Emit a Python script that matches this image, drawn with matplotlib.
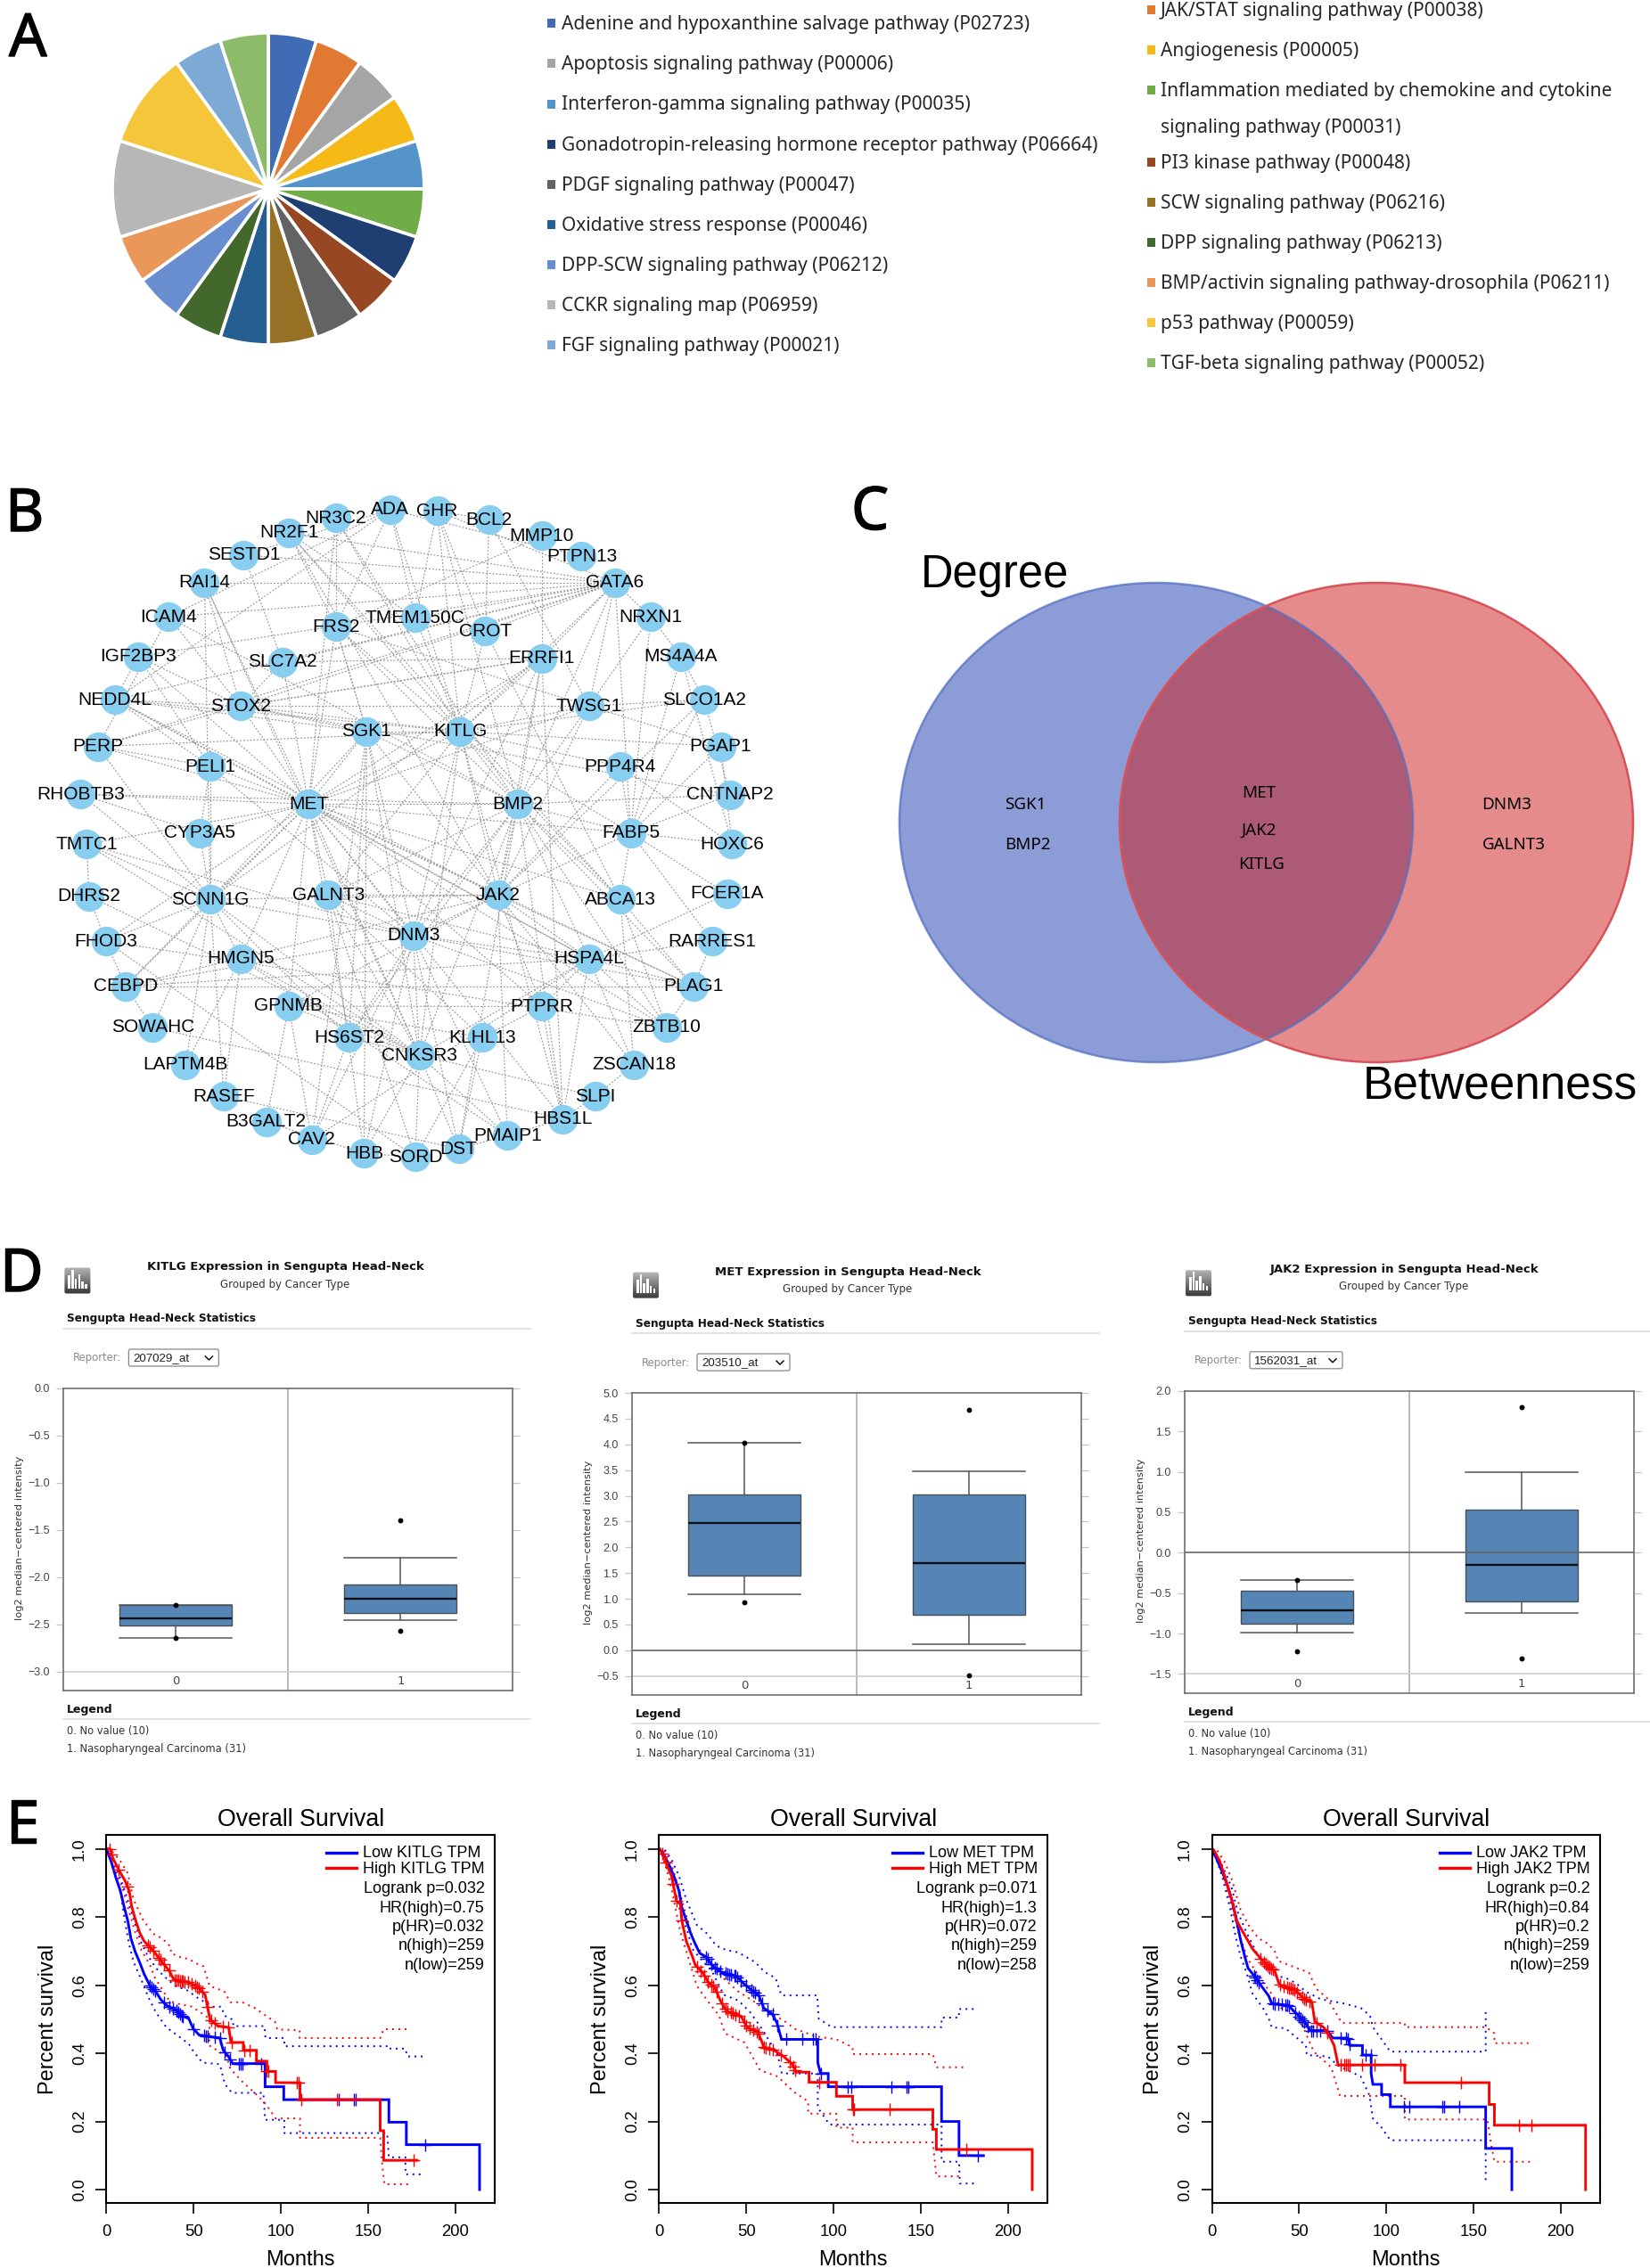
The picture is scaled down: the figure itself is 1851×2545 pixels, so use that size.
#!/usr/bin/env python3

import numpy as np
import matplotlib
matplotlib.use("Agg")
import matplotlib.pyplot as plt
import matplotlib.patheffects as path_effects
from matplotlib.collections import LineCollection
from matplotlib.patches import Ellipse, FancyBboxPatch, Rectangle

WIDTH: int = 1851
HEIGHT: int = 2545
OUTPUT_FILE: str = "out.png"

SANS: str = "Liberation Sans"
NOTO: str = "Noto Sans"
WEB: str = "DejaVu Sans"

# --- panel A ---------------------------------------------------------------
PIE_LABELS = [
    "Adenine and hypoxanthine salvage pathway (P02723)",
    "JAK/STAT signaling pathway (P00038)",
    "Apoptosis signaling pathway (P00006)",
    "Angiogenesis (P00005)",
    "Interferon-gamma signaling pathway (P00035)",
    "Inflammation mediated by chemokine and cytokine\nsignaling pathway (P00031)",
    "Gonadotropin-releasing hormone receptor pathway (P06664)",
    "PI3 kinase pathway (P00048)",
    "PDGF signaling pathway (P00047)",
    "SCW signaling pathway (P06216)",
    "Oxidative stress response (P00046)",
    "DPP signaling pathway (P06213)",
    "DPP-SCW signaling pathway (P06212)",
    "BMP/activin signaling pathway-drosophila (P06211)",
    "CCKR signaling map (P06959)",
    "p53 pathway (P00059)",
    "FGF signaling pathway (P00021)",
    "TGF-beta signaling pathway (P00052)",
]
PIE_VALUES = [1, 1, 1, 1, 1, 1, 1, 1, 1, 1, 1, 1, 1, 1, 2, 2, 1, 1]
PIE_COLORS = [
    "#3F6CB4", "#E27932", "#A5A5A5", "#F5BA18", "#5593CB", "#70AD47",
    "#1F3F73", "#974722", "#636363", "#967024", "#255E91", "#43682B",
    "#698ED0", "#EA975A", "#B7B7B7", "#F5C63A", "#7CAAD5", "#8CBB69",
]

# --- panel B ---------------------------------------------------------------
NODE_NAMES = [
    "ADA", "GHR", "BCL2", "MMP10", "PTPN13", "GATA6", "NRXN1", "MS4A4A",
    "SLCO1A2", "PGAP1", "CNTNAP2", "HOXC6", "FCER1A", "RARRES1", "PLAG1",
    "ZBTB10", "ZSCAN18", "SLPI", "HBS1L", "PMAIP1", "DST", "SORD", "HBB",
    "CAV2", "B3GALT2", "RASEF", "LAPTM4B", "SOWAHC", "CEBPD", "FHOD3",
    "DHRS2", "TMTC1", "RHOBTB3", "PERP", "NEDD4L", "IGF2BP3", "ICAM4",
    "RAI14", "SESTD1", "NR2F1", "NR3C2",
    "TMEM150C", "FRS2", "CROT", "SLC7A2", "ERRFI1", "STOX2", "TWSG1", "SGK1",
    "KITLG", "PELI1", "PPP4R4", "MET", "BMP2", "CYP3A5", "FABP5", "SCNN1G",
    "GALNT3", "JAK2", "ABCA13", "DNM3", "HMGN5", "HSPA4L", "GPNMB", "PTPRR",
    "HS6ST2", "KLHL13", "CNKSR3",
]
NODE_X = [
    746, 836, 935, 1036, 1112, 1176, 1244, 1302, 1346, 1378, 1396, 1400, 1390,
    1362, 1326, 1274, 1212, 1138, 1076, 970, 877, 794, 696, 596, 509, 428,
    355, 292, 240, 202, 170, 166, 154, 187, 220, 264, 322, 391, 466, 552, 642,
    794, 642, 928, 540, 1036, 460, 1126, 701, 880, 402, 1186, 590, 990, 382,
    1206, 402, 628, 952, 1186, 790, 460, 1126, 552, 1036, 667, 922, 802,
]
NODE_Y = [
    82, 85, 104, 140, 185, 243, 318, 405, 500, 603, 709, 818, 927, 1031, 1130,
    1221, 1303, 1372, 1422, 1459, 1488, 1506, 1498, 1468, 1428, 1372, 1303,
    1221, 1130, 1031, 932, 818, 708, 603, 500, 405, 318, 243, 182, 133, 100,
    320, 340, 349, 417, 409, 514, 514, 570, 570, 647, 647, 730, 730, 793, 793,
    939, 930, 930, 939, 1019, 1070, 1070, 1174, 1175, 1243, 1243, 1282,
]
MET_LINKS = [
    "SGK1", "KITLG", "BMP2", "JAK2", "DNM3", "GALNT3", "SCNN1G", "NEDD4L",
    "PERP", "RHOBTB3", "STOX2", "RAI14", "PELI1", "CYP3A5", "ERRFI1", "CEBPD",
    "FHOD3", "HSPA4L", "PLAG1", "ZBTB10", "CNKSR3", "HS6ST2", "GPNMB", "FABP5",
    "TWSG1", "HMGN5", "ABCA13", "TMTC1", "IGF2BP3", "SLC7A2", "FRS2", "PTPRR",
    "HBS1L",
]
KITLG_LINKS = [
    "ERRFI1", "GATA6", "BMP2", "JAK2", "DNM3", "NR2F1", "FRS2", "SGK1", "TWSG1",
    "TMEM150C", "CROT", "ADA", "GHR", "STOX2", "NEDD4L", "PERP", "PPP4R4",
    "FABP5", "ABCA13", "HBS1L", "CNKSR3", "GALNT3", "SLCO1A2", "PGAP1",
]
JAK2_LINKS = [
    "BMP2", "ERRFI1", "TWSG1", "PPP4R4", "DNM3", "SCNN1G", "HSPA4L", "FABP5",
    "PTPRR", "ZSCAN18", "PMAIP1", "SLCO1A2", "CEBPD", "GPNMB", "SGK1", "NEDD4L",
    "NR2F1", "PLAG1", "GALNT3",
]
BMP2_LINKS = [
    "TWSG1", "ERRFI1", "GATA6", "FABP5", "PLAG1", "ZBTB10", "HS6ST2", "CNKSR3",
    "SGK1", "DNM3", "GALNT3", "ABCA13", "HSPA4L", "HBS1L", "RHOBTB3", "CNTNAP2",
    "FRS2", "NR3C2", "DST", "ICAM4",
]
GATA6_LINKS = [
    "TWSG1", "ERRFI1", "CROT", "STOX2", "NEDD4L", "RAI14", "NRXN1", "FABP5",
    "SLC7A2", "ICAM4", "NR2F1", "GHR", "TMEM150C", "IGF2BP3", "PERP", "SESTD1",
]
DNM3_LINKS = [
    "SCNN1G", "GALNT3", "HSPA4L", "PLAG1", "SGK1", "CNKSR3", "HS6ST2", "CAV2",
    "HBB", "TMTC1", "PELI1", "ZBTB10", "DST", "CEBPD", "PMAIP1", "ERRFI1",
]
FABP5_LINKS = [
    "MS4A4A", "SLCO1A2", "PGAP1", "CNTNAP2", "HOXC6", "FCER1A", "PPP4R4",
    "ABCA13", "NRXN1", "RARRES1",
]
SCNN1G_LINKS = [
    "CYP3A5", "PELI1", "SGK1", "ERRFI1", "CEBPD", "FHOD3", "HMGN5", "RASEF",
    "RHOBTB3", "PERP", "LAPTM4B", "SOWAHC", "HS6ST2", "CNKSR3",
]
CNKSR3_LINKS = [
    "HS6ST2", "GALNT3", "SGK1", "DST", "PMAIP1", "HBB", "SORD", "SLPI", "GPNMB",
    "HSPA4L", "HMGN5", "RAI14", "TMTC1",
]
HSPA4L_LINKS = [
    "RARRES1", "FCER1A", "PLAG1", "ZBTB10", "ZSCAN18", "HBS1L", "CEBPD",
    "NEDD4L", "CAV2", "GALNT3",
]
STOX2_LINKS = [
    "NEDD4L", "IGF2BP3", "ERRFI1", "TWSG1", "PERP", "SLC7A2", "RAI14", "CNTNAP2",
    "ICAM4",
]
EXTRA_LINKS = [
    ("ADA", "FRS2"), ("ADA", "NEDD4L"), ("ADA", "TMEM150C"), ("ADA", "SESTD1"),
    ("ADA", "ICAM4"), ("GHR", "CROT"), ("GHR", "TMEM150C"), ("GHR", "BMP2"),
    ("BCL2", "CROT"), ("BCL2", "GHR"), ("BCL2", "TWSG1"), ("MMP10", "ERRFI1"),
    ("MMP10", "FRS2"), ("PTPN13", "ADA"), ("NRXN1", "MS4A4A"), ("NRXN1", "TWSG1"),
    ("NR2F1", "TMEM150C"), ("NR2F1", "ABCA13"), ("NR2F1", "FRS2"), ("NR3C2", "KITLG"),
    ("NR3C2", "FRS2"), ("NR3C2", "MET"), ("TMTC1", "DHRS2"), ("TMTC1", "SCNN1G"),
    ("DHRS2", "FHOD3"), ("DHRS2", "CNKSR3"), ("FHOD3", "CEBPD"), ("CEBPD", "PLAG1"),
    ("SOWAHC", "CEBPD"), ("SGK1", "CAV2"), ("SGK1", "HBB"), ("SGK1", "HS6ST2"),
    ("SGK1", "NEDD4L"), ("SGK1", "STOX2"), ("SGK1", "FRS2"), ("PERP", "PELI1"),
    ("PELI1", "NEDD4L"), ("PELI1", "CYP3A5"), ("CYP3A5", "RHOBTB3"), ("SESTD1", "SLC7A2"),
    ("RAI14", "SCNN1G"), ("ICAM4", "PERP"), ("IGF2BP3", "NEDD4L"), ("IGF2BP3", "PELI1"),
    ("SLC7A2", "ERRFI1"), ("FRS2", "SGK1"), ("FRS2", "TWSG1"), ("ERRFI1", "STOX2"),
    ("ERRFI1", "HBS1L"), ("CROT", "ABCA13"), ("TWSG1", "SLCO1A2"), ("TWSG1", "PGAP1"),
    ("MS4A4A", "SLCO1A2"), ("MS4A4A", "HOXC6"), ("SLCO1A2", "CNTNAP2"), ("PGAP1", "HOXC6"),
    ("PPP4R4", "HOXC6"), ("ABCA13", "PLAG1"), ("ABCA13", "ZBTB10"), ("ABCA13", "ZSCAN18"),
    ("RARRES1", "PLAG1"), ("PLAG1", "ZBTB10"), ("ZSCAN18", "SLPI"), ("SLPI", "HBS1L"),
    ("HBS1L", "PTPRR"), ("HBS1L", "PMAIP1"), ("PMAIP1", "DST"), ("DST", "RASEF"),
    ("DST", "KLHL13"), ("HBB", "SORD"), ("HBB", "GALNT3"), ("HBB", "B3GALT2"),
    ("CAV2", "HS6ST2"), ("CAV2", "GPNMB"), ("B3GALT2", "GPNMB"), ("RASEF", "HMGN5"),
    ("LAPTM4B", "HMGN5"), ("GPNMB", "KLHL13"), ("GPNMB", "PTPRR"), ("PTPRR", "KLHL13"),
    ("PTPRR", "HSPA4L"), ("KLHL13", "SORD"), ("FHOD3", "ZBTB10"), ("FHOD3", "SORD"),
    ("GALNT3", "SORD"), ("GALNT3", "KLHL13"), ("HMGN5", "PMAIP1"), ("SOWAHC", "HBS1L"),
]

# --- panel C ---------------------------------------------------------------
VENN_LEFT = ["SGK1", "BMP2"]
VENN_BOTH = ["MET", "JAK2", "KITLG"]
VENN_RIGHT = ["DNM3", "GALNT3"]

# --- panel D: q1, median, q3, low whisker, high whisker --------------------
KITLG_BOX_NO_VALUE = [-2.51, -2.44, -2.30, -2.645, -2.30]
KITLG_BOX_NPC = [-2.385, -2.23, -2.075, -2.455, -1.795]
KITLG_FLIERS_NO_VALUE = [-2.30, -2.645]
KITLG_FLIERS_NPC = [-1.40, -2.565]
KITLG_TICKS = [0.0, -0.5, -1.0, -1.5, -2.0, -2.5, -3.0]

MET_BOX_NO_VALUE = [1.447, 2.476, 3.025, 1.09, 4.03]
MET_BOX_NPC = [0.693, 1.70, 3.025, 0.117, 3.48]
MET_FLIERS_NO_VALUE = [4.03, 0.93]
MET_FLIERS_NPC = [4.68, -0.49]
MET_TICKS = [5.0, 4.5, 4.0, 3.5, 3.0, 2.5, 2.0, 1.5, 1.0, 0.5, 0.0, -0.5]

JAK2_BOX_NO_VALUE = [-0.875, -0.715, -0.47, -0.985, -0.34]
JAK2_BOX_NPC = [-0.605, -0.155, 0.535, -0.75, 0.995]
JAK2_FLIERS_NO_VALUE = [-0.34, -1.215]
JAK2_FLIERS_NPC = [1.795, -1.31]
JAK2_TICKS = [2.0, 1.5, 1.0, 0.5, 0.0, -0.5, -1.0, -1.5]

# --- panel E: curve outlines as months and survival ------------------------
KITLG_LOW_T = [0, 2.9, 5.4, 8, 10, 12.2, 14, 16.5, 19, 21.6, 25, 28.4, 31, 34.4, 39.5, 43, 47.2, 49.8, 53.2, 58.3, 65, 67, 70, 72.4, 91, 91, 101.7, 101.7, 162, 162, 172, 172, 214, 214]
KITLG_LOW_S = [1, .96, .916, .877, .833, .79, .738, .698, .668, .633, .598, .581, .559, .541, .528, .511, .502, .472, .454, .45, .445, .409, .391, .37, .37, .302, .302, .264, .264, .198, .198, .132, .132, 0]
KITLG_HIGH_T = [0, 2, 3.7, 7.1, 10.5, 13.1, 14.4, 16.5, 19, 21.6, 25.9, 29.3, 32.7, 36.1, 38.7, 47.2, 52.3, 56.6, 58.3, 59.5, 64.2, 70.2, 71.4, 78.5, 78.5, 86, 86, 92, 92, 97, 97, 111, 111, 157, 157, 159, 159, 178]
KITLG_HIGH_S = [1, 1, .973, .938, .908, .877, .833, .794, .755, .729, .707, .685, .663, .642, .616, .609, .594, .572, .528, .498, .48, .476, .432, .432, .409, .409, .377, .377, .347, .347, .314, .314, .264, .264, .173, .173, .086, .086]
KITLG_LOW_UP_T = [0, 1.5, 6.3, 10.5, 14.8, 17.4, 20, 23.3, 28.4, 33.5, 39.5, 46.3, 52.3, 60.8, 66, 67.6, 72.7, 72.7, 90.7, 91.2, 102, 102, 161.4, 161.4, 171.5, 172.5, 182.6]
KITLG_LOW_UP_S = [1, .995, .938, .877, .807, .764, .724, .69, .65, .624, .598, .585, .563, .537, .537, .511, .498, .48, .48, .445, .445, .421, .421, .414, .414, .391, .391]
KITLG_LOW_LO_T = [0, 2, 6.3, 8.8, 10.5, 13, 15.6, 20, 24.2, 28.4, 34.4, 40.4, 47.2, 50, 55, 65, 68, 72, 90, 91, 102, 102, 161, 162, 171.5, 171.5, 181]
KITLG_LOW_LO_S = [1, .973, .912, .851, .79, .72, .668, .616, .563, .52, .476, .454, .428, .405, .373, .368, .309, .284, .284, .205, .205, .166, .166, .095, .095, .045, .045]
KITLG_HIGH_UP_T = [0, 3.7, 8, 12.2, 15.6, 20.8, 26.7, 31.8, 37, 37, 43, 47.2, 51.5, 55.7, 59.1, 67.6, 71, 78, 85.5, 91.5, 96.6, 98, 110.8, 110.8, 157, 159, 174]
KITLG_HIGH_UP_S = [1, .99, .964, .929, .851, .794, .751, .738, .712, .694, .681, .677, .664, .655, .598, .582, .55, .55, .532, .51, .493, .47, .468, .445, .445, .471, .471]
KITLG_HIGH_LO_T = [0, 1.5, 5.4, 9.7, 13, 16.5, 20, 25, 27.6, 31.8, 36.1, 40.4, 49, 54, 59, 59, 69, 71, 78.5, 85.5, 91.6, 97, 111, 111, 157, 158, 159.4, 175.5]
KITLG_HIGH_LO_S = [1, .99, .938, .877, .816, .755, .703, .659, .624, .589, .554, .546, .537, .52, .502, .423, .391, .355, .314, .282, .25, .209, .209, .152, .152, .082, .016, .016]
KITLG_LOW_CENSOR = [25, 26, 27, 28, 33, 36, 38, 40, 41, 42, 43, 44, 50, 56, 57, 58, 62, 65, 68, 71, 76, 77, 78, 89, 133, 142, 143, 183]
KITLG_HIGH_CENSOR = [2, 3, 7, 12, 24, 25, 27, 30, 31, 33, 36, 39, 40, 41, 42, 43, 44, 45, 47, 49, 51, 52, 53, 55, 58, 60, 62, 67, 70, 72, 79, 82, 92, 93, 109, 110, 112, 132, 176]

MET_LOW_T = [0, 2, 6.3, 8.8, 11.4, 13, 15.6, 18.2, 20.8, 23.3, 27.6, 30.2, 34.4, 38.7, 44.6, 48, 52.3, 57.4, 60, 65, 67.6, 70.2, 91, 91, 92.6, 97, 97, 162, 162, 172, 172, 186]
MET_LOW_S = [1, .99, .947, .916, .877, .829, .79, .751, .72, .694, .681, .659, .642, .633, .626, .607, .589, .568, .533, .515, .489, .441, .441, .373, .341, .341, .302, .302, .2, .2, .1, .1]
MET_HIGH_T = [0, 2, 4.6, 7.1, 8.8, 10, 12.2, 13, 15.6, 19, 20.8, 25, 28.4, 31.8, 35.2, 38.7, 47.2, 50.6, 56.6, 59, 60, 66, 71.4, 76.4, 78.5, 86, 86, 101.7, 101.7, 111, 111, 157, 157, 159, 159, 214, 214]
MET_HIGH_S = [1, .986, .951, .921, .877, .847, .838, .79, .729, .685, .659, .637, .607, .594, .554, .524, .507, .476, .463, .433, .418, .409, .391, .368, .345, .345, .315, .315, .274, .274, .235, .235, .177, .177, .118, .118, 0]
MET_LOW_UP_T = [0, 2.9, 7.1, 11.4, 15.6, 21.6, 27.6, 32.7, 38.7, 45.5, 54.9, 60.8, 66.8, 70.2, 90.7, 91.5, 99, 162, 162, 172, 172, 182]
MET_LOW_UP_S = [1, 1, .969, .921, .851, .777, .751, .716, .703, .696, .668, .638, .621, .57, .57, .502, .477, .477, .505, .505, .53, .53]
MET_LOW_LO_T = [0, 2, 6.3, 12.2, 16.5, 19, 23.3, 30.2, 37, 45.5, 52.3, 59, 68, 70.4, 91, 91, 97.7, 162, 162, 172, 172.5, 182]
MET_LOW_LO_S = [1, .98, .93, .816, .755, .707, .68, .642, .572, .555, .52, .472, .395, .341, .341, .241, .191, .191, .082, .082, .018, .018]
MET_HIGH_UP_T = [0, 2.5, 7.1, 11.4, 15.6, 19.9, 26.7, 37, 45.5, 54, 62.5, 71, 77.8, 89.7, 101.7, 111, 111, 157, 159, 175.5]
MET_HIGH_UP_S = [1, 1, .955, .881, .803, .729, .677, .62, .581, .554, .52, .498, .472, .45, .441, .418, .398, .398, .359, .359]
MET_HIGH_LO_T = [0, 2, 5.4, 8.8, 12.2, 16.5, 21.6, 28.4, 34.4, 37.7, 48.9, 58, 68, 77.5, 85.5, 85.5, 101.7, 101.7, 111, 111, 157, 159, 173.5]
MET_HIGH_LO_S = [1, .977, .921, .842, .755, .685, .598, .55, .511, .459, .432, .35, .332, .286, .259, .223, .223, .182, .182, .139, .139, .039, .039]
MET_LOW_CENSOR = [27, 28, 30, 32, 33, 35, 38, 39, 40, 41, 43, 44, 45, 47, 50, 53, 54, 55, 57, 59, 62, 65, 68, 73, 82, 88, 90, 93, 108, 110, 133, 142, 143, 183]
MET_HIGH_CENSOR = [2, 4, 8, 10, 13, 22, 24, 26, 28, 30, 31, 33, 36, 38, 39, 41, 42, 44, 46, 49, 50, 52, 54, 56, 57, 60, 61, 63, 65, 70, 75, 77, 78, 92, 111, 112, 132, 176]

JAK2_LOW_T = [0, 2.8, 6.2, 8.7, 11.3, 13.8, 16.4, 19, 20.7, 24, 28.3, 32.6, 34.3, 43.7, 48.8, 53, 56.5, 65.9, 69.3, 77.8, 79.2, 86.3, 86.3, 91.3, 91.3, 92.3, 97.3, 97.3, 102.3, 102.3, 157, 157, 172, 172]
JAK2_LOW_S = [1, .969, .929, .895, .851, .799, .733, .681, .65, .629, .598, .568, .546, .541, .515, .493, .467, .467, .445, .445, .423, .423, .395, .395, .341, .309, .309, .279, .279, .243, .243, .121, .121, 0]
JAK2_HIGH_T = [0, 1, 4.5, 7, 9.6, 12.1, 13.8, 16.4, 19.8, 23.2, 27.5, 31.7, 36, 38.6, 47.9, 52.2, 57.3, 59, 64.1, 67.5, 70, 72.4, 110.6, 110.6, 159, 159, 162, 162, 214.3, 214.3]
JAK2_HIGH_S = [1, .997, .964, .925, .881, .838, .794, .768, .738, .707, .681, .659, .642, .602, .585, .563, .55, .493, .476, .45, .424, .366, .366, .314, .314, .25, .25, .189, .189, 0]
JAK2_LOW_UP_T = [0, 2.8, 7.9, 11.3, 14.7, 19.8, 26.6, 33.4, 42.8, 47.9, 53.9, 62.4, 76, 85.4, 90.6, 92.3, 97.3, 102.3, 157, 157]
JAK2_LOW_UP_S = [1, .982, .929, .886, .816, .755, .685, .633, .62, .607, .581, .559, .546, .533, .511, .477, .441, .405, .405, .532]
JAK2_LOW_LO_T = [0, 1.9, 6.2, 10.4, 13.8, 16.4, 19.8, 23.2, 29.2, 32.6, 34.3, 42, 48.8, 53.9, 54.4, 66.4, 72.4, 85.3, 90.3, 92.3, 97.3, 102.3, 157, 157]
JAK2_LOW_LO_S = [1, .982, .912, .825, .738, .685, .637, .576, .533, .502, .476, .474, .445, .423, .395, .391, .364, .332, .277, .209, .182, .145, .145, .027]
JAK2_HIGH_UP_T = [0, 2.4, 7, 11.3, 16.4, 21.5, 26.6, 32.6, 36.8, 37.7, 48.8, 55.6, 59.9, 65.9, 71, 74.4, 110.6, 110.6, 157, 162, 162, 181.6]
JAK2_HIGH_UP_S = [1, 1, .964, .912, .821, .772, .738, .72, .694, .672, .65, .637, .589, .563, .52, .489, .489, .477, .477, .459, .43, .43]
JAK2_HIGH_LO_T = [0, 1, 5.3, 9.6, 14.7, 20.5, 28.5, 36.5, 40.5, 48.4, 58.4, 68.4, 73.4, 110.6, 110.6, 158, 160, 162, 182.4]
JAK2_HIGH_LO_S = [1, .986, .938, .86, .764, .677, .614, .559, .527, .523, .405, .359, .275, .275, .206, .206, .136, .082, .082]
JAK2_LOW_CENSOR = [24, 25, 26, 27, 35, 36, 38, 40, 42, 43, 44, 48, 50, 51, 52, 53, 55, 57, 58, 60, 62, 66, 74, 77, 78, 79, 88, 91, 110, 113, 132, 133, 142]
JAK2_HIGH_CENSOR = [28, 30, 31, 32, 33, 34, 35, 39, 41, 43, 44, 45, 46, 47, 49, 52, 53, 54, 56, 60, 66, 74, 76, 77, 78, 79, 86, 93, 108, 143, 176, 183]

SURVIVAL_NOTES_KITLG = ["Logrank p=0.032", "HR(high)=0.75", "p(HR)=0.032", "n(high)=259", "n(low)=259"]
SURVIVAL_NOTES_MET = ["Logrank p=0.071", "HR(high)=1.3", "p(HR)=0.072", "n(high)=259", "n(low)=258"]
SURVIVAL_NOTES_JAK2 = ["Logrank p=0.2", "HR(high)=0.84", "p(HR)=0.2", "n(high)=259", "n(low)=259"]


def pixel_axes(fig, left, top, right, bottom, **kwargs):
    """Add an axes given by its pixel box, y counted from the top of the image."""
    return fig.add_axes(
        [left / WIDTH, 1 - bottom / HEIGHT, (right - left) / WIDTH, (bottom - top) / HEIGHT],
        **kwargs,
    )


def draw_panel_a(fig, canvas) -> None:
    ax = pixel_axes(fig, 126, 37, 476, 387)
    ax.pie(
        PIE_VALUES, colors=PIE_COLORS, startangle=90, counterclock=False, radius=1,
        wedgeprops={"edgecolor": "white", "linewidth": 2.6},
    )
    ax.set_xlim(-1, 1)
    ax.set_ylim(-1, 1)

    rows_left = [25.8, 71, 116.5, 161.6, 207, 251.6, 297, 341.7, 386.8]
    rows_right = [10.6, 55.6, 101, 181.5, 226.8, 272, 317, 362, 407]
    for i, (label, color) in enumerate(zip(PIE_LABELS, PIE_COLORS)):
        if i % 2 == 0:
            box_x, text_x, y = 614, 630, rows_left[i // 2]
        else:
            box_x, text_x, y = 1287, 1302, rows_right[i // 2]
        canvas.add_patch(Rectangle((box_x, y - 5), 9, 10, color=color, lw=0))
        parts = label.split("\n")
        canvas.text(text_x, y + 1.5, parts[0], family=NOTO, fontsize=15.05, color="#262626", va="center")
        if len(parts) > 1:
            canvas.text(text_x, 143.2, parts[1], family=NOTO, fontsize=15.05, color="#262626", va="center")


def network_edges() -> list[tuple[str, str]]:
    """Flatten the hub lists into one list of node pairs."""
    hubs = [
        ("MET", MET_LINKS), ("KITLG", KITLG_LINKS), ("JAK2", JAK2_LINKS),
        ("BMP2", BMP2_LINKS), ("GATA6", GATA6_LINKS), ("DNM3", DNM3_LINKS),
        ("FABP5", FABP5_LINKS), ("SCNN1G", SCNN1G_LINKS),
        ("CNKSR3", CNKSR3_LINKS), ("HSPA4L", HSPA4L_LINKS), ("STOX2", STOX2_LINKS),
    ]
    edges = [(hub, other) for hub, links in hubs for other in links]
    return edges + EXTRA_LINKS


def draw_panel_b(fig) -> None:
    ax = pixel_axes(fig, 0, 530, 920, 1330)
    ax.set_xlim(0, 1568)
    ax.set_ylim(1568, 0)
    ax.axis("off")

    where = {name: (x, y) for name, x, y in zip(NODE_NAMES, NODE_X, NODE_Y)}
    segments = [(where[a], where[b]) for a, b in network_edges()]
    ax.add_collection(LineCollection(
        segments, colors="#9a9a9a", linewidths=0.85, linestyles=[(0, (1.6, 1.6))], zorder=1,
    ))
    ax.scatter(NODE_X, NODE_Y, s=575, color="#87CEF0", linewidths=0, zorder=2)
    for name, x, y in zip(NODE_NAMES, NODE_X, NODE_Y):
        ax.text(x, y, name, family=SANS, fontsize=15, color="black",
                ha="center", va="center", zorder=3)


def draw_panel_c(canvas) -> None:
    left = Ellipse((1297, 923), 576, 538, facecolor="#8C9CD6", edgecolor="none")
    right = Ellipse((1544, 923), 576, 538, facecolor="#E58B8B", edgecolor="none")
    canvas.add_patch(left)
    canvas.add_patch(right)
    both = Ellipse((1297, 923), 576, 538, facecolor="#AC5A76", edgecolor="none")
    canvas.add_patch(both)
    both.set_clip_path(right)
    canvas.add_patch(Ellipse((1297, 923), 576, 538, fill=False, edgecolor="#5470C4", lw=1.8, alpha=0.75))
    canvas.add_patch(Ellipse((1544, 923), 576, 538, fill=False, edgecolor="#D9525A", lw=1.8))

    for x, y, name in zip([1150, 1153], [903, 948], VENN_LEFT):
        canvas.text(x, y, name, family=NOTO, fontsize=13.5, ha="center", va="center", color="black")
    for x, y, name in zip([1412, 1412, 1415], [890, 932, 970], VENN_BOTH):
        canvas.text(x, y, name, family=NOTO, fontsize=13.5, ha="center", va="center", color="black")
    for x, y, name in zip([1690, 1698], [903, 948], VENN_RIGHT):
        canvas.text(x, y, name, family=NOTO, fontsize=13.5, ha="center", va="center", color="black")
    canvas.text(1116, 645, "Degree", family=SANS, fontsize=36.5, ha="center", va="center", color="black")
    canvas.text(1683, 1219, "Betweenness", family=SANS, fontsize=37, ha="center", va="center", color="black")


def draw_icon(canvas, x: float, y: float) -> None:
    """Small dark chart button beside each title of panel D."""
    ramp = np.linspace(0.72, 0.22, 32).reshape(-1, 1)
    image = canvas.imshow(ramp, extent=(x, x + 31, y + 31, y), cmap="gray", vmin=0, vmax=1,
                          aspect="auto", zorder=3)
    frame = FancyBboxPatch((x + 1, y + 1), 29, 29, boxstyle="round,pad=0,rounding_size=2",
                           facecolor="none", edgecolor="none")
    canvas.add_patch(frame)
    image.set_clip_path(frame)
    heights = [15, 21, 11, 16, 8, 5]
    for i, bar in enumerate(heights):
        canvas.add_patch(Rectangle((x + 5 + i * 3.7, y + 24 - bar), 2.6, bar, color="white", lw=0, zorder=4))


def draw_box_panel(fig, canvas, dx, dy, gene, reporter, stats, ticks, zero_line) -> None:
    left, top = 71.4 + dx, 1558 + dy
    right, bottom = left + 504, top + 339

    draw_icon(canvas, left, top - 136.5)
    center = left + {"KITLG": 248.6, "MET": 242, "JAK2": 246}[gene]
    canvas.text(center, top - 136, f"{gene} Expression in Sengupta Head-Neck", family=WEB,
                fontsize=9.5, weight="bold", ha="center", va="center", color="#111111")
    canvas.text(center, top - 117, "Grouped by Cancer Type", family=WEB, fontsize=8.5,
                ha="center", va="center", color="#333333")
    canvas.text(left + 3.5, top - 78, "Sengupta Head-Neck Statistics", family=WEB, fontsize=8.7,
                weight="bold", va="center", color="#111111")
    canvas.plot([left, left + 524], [top - 67, top - 67], color="#DDDDDD", lw=1.2)

    canvas.text(left + 10.7, top - 34, "Reporter:", family=WEB, fontsize=8.4, va="center", color="#8C8C8C")
    box_w = 101 if gene == "KITLG" else 104
    canvas.add_patch(FancyBboxPatch((left + 73, top - 44), box_w, 19, boxstyle="round,pad=0,rounding_size=2",
                                    facecolor="white", edgecolor="#888888", lw=0.9))
    canvas.text(left + 78, top - 34, reporter, family=SANS, fontsize=9.6, va="center", color="#222222")
    chevron_x = left + 73 + box_w - 11
    canvas.plot([chevron_x - 4, chevron_x, chevron_x + 4], [top - 36, top - 32, top - 36], color="#111111", lw=1.1)

    canvas.text(left + 3.5, bottom + 21.5, "Legend", family=WEB, fontsize=9, weight="bold", va="center", color="#111111")
    canvas.plot([left, left + 524], [bottom + 32, bottom + 32], color="#DDDDDD", lw=1.2)
    canvas.text(left + 3.5, bottom + 45.7, "0. No value (10)", family=WEB, fontsize=8.3, va="center", color="#333333")
    canvas.text(left + 3.5, bottom + 65.5, "1. Nasopharyngeal Carcinoma (31)", family=WEB, fontsize=8.3,
                va="center", color="#333333")
    canvas.text(left - 49, top + 168, "log2 median\u2212centered intensity", family=WEB, fontsize=8.2,
                rotation=90, ha="center", va="center", color="#333333")

    ax = pixel_axes(fig, left, top, right, bottom)
    per_px = (ticks[0] - ticks[-1]) / 317.6
    ax.set_ylim(ticks[-1] - 21.4 * per_px, ticks[0])
    ax.set_xlim(0, 2)
    ax.axvline(1, color="#AFAFAF", lw=1.2, zorder=1)
    ax.axhline(ticks[-1], color="#CFCFCF", lw=1.2, zorder=1)
    ax.bxp(
        stats, positions=[0.5, 1.5], widths=0.5, capwidths=0.5, patch_artist=True, manage_ticks=False,
        boxprops={"facecolor": "#5585B5", "edgecolor": "#4A4F55", "linewidth": 1.0},
        medianprops={"color": "#0A0F18", "linewidth": 1.7},
        whiskerprops={"color": "#555555", "linewidth": 1.1},
        capprops={"color": "#555555", "linewidth": 1.1},
        flierprops={"marker": "o", "markersize": 3.2, "markerfacecolor": "black",
                    "markeredgecolor": "black"},
    )
    if zero_line:
        ax.axhline(0, color="#666666", lw=1.2, zorder=5)
    ax.set_yticks(ticks)
    ax.set_yticklabels([f"{t:.1f}".replace("-", "\u2212") for t in ticks], family=SANS, fontsize=9, color="#444444")
    ax.set_xticks([0.5, 1.5])
    ax.set_xticklabels(["0", "1"], family=WEB, fontsize=9.5, color="#444444")
    ax.tick_params(axis="y", left=True, right=True, length=6, width=0.9, color="#C4C4C4", pad=5)
    ax.tick_params(axis="x", length=0, pad=-12)
    for spine in ax.spines.values():
        spine.set_color("#6E6E6E")
        spine.set_linewidth(1.2)


def draw_survival(fig, canvas, left, curves, gene, notes, legend_dx) -> None:
    top, bottom = 2059.4, 2472
    right = left + 435.4
    ax = pixel_axes(fig, left, top, right, bottom)

    for t, s, color in curves["bands"]:
        ax.plot(t, s, color=color, lw=1.4, ls=(0, (1, 2.6)))
    for t, s, cens, color in curves["lines"]:
        ax.plot(t, s, color=color, lw=2.1, solid_joinstyle="miter")
        ax.plot(cens, np.interp(cens, t, s), ls="none", marker="+", ms=10.5, mew=1.0, color=color)

    ax.set_xlim(0, 222.6)
    ax.set_ylim(-0.039, 1.04)
    ax.set_xticks([0, 50, 100, 150, 200])
    ax.set_yticks([0, 0.2, 0.4, 0.6, 0.8, 1.0])
    ax.set_xticklabels(["0", "50", "100", "150", "200"], family=SANS, fontsize=13.3)
    ax.set_yticklabels(["0.0", "0.2", "0.4", "0.6", "0.8", "1.0"], family=SANS, fontsize=13.3,
                       rotation=90, va="center")
    ax.tick_params(length=8.5, width=1.2, pad=9)
    ax.tick_params(axis="y", pad=7)
    for spine in ax.spines.values():
        spine.set_linewidth(1.5)

    canvas.text((left + right) / 2, 2042, "Overall Survival", family=SANS, fontsize=19.3,
                ha="center", va="center")
    canvas.text(left - 65.5, 2266, "Percent survival", family=SANS, fontsize=17, rotation=90,
                ha="center", va="center")
    canvas.text((left + right) / 2, 2536, "Months", family=SANS, fontsize=17, ha="center", va="center")

    x_line = left + 247 + legend_dx
    for y, color, word in [(2079, "#0000FF", "Low"), (2096, "#FF0000", "High")]:
        canvas.plot([x_line, x_line + 34], [y, y], color=color, lw=2.4)
        canvas.text(x_line + 41, y + 1, f"{word} {gene} TPM", family=SANS, fontsize=13, va="center")
    for y, note in zip([2118, 2140, 2161.6, 2183, 2205], notes):
        canvas.text(left + 424, y + 1, note, family=SANS, fontsize=13, ha="right", va="center")


def main() -> None:
    fig = plt.figure(figsize=(WIDTH / 100, HEIGHT / 100), dpi=100, facecolor="white")
    canvas = fig.add_axes([0, 0, 1, 1], zorder=10)
    canvas.set_xlim(0, WIDTH)
    canvas.set_ylim(HEIGHT, 0)
    canvas.set_autoscale_on(False)
    canvas.axis("off")

    draw_panel_a(fig, canvas)
    draw_panel_b(fig)
    draw_panel_c(canvas)

    box_panels = [
        (0, 0, "KITLG", "207029_at", KITLG_TICKS, False,
         KITLG_BOX_NO_VALUE, KITLG_BOX_NPC, KITLG_FLIERS_NO_VALUE, KITLG_FLIERS_NPC),
        (637.6, 5.1, "MET", "203510_at", MET_TICKS, True,
         MET_BOX_NO_VALUE, MET_BOX_NPC, MET_FLIERS_NO_VALUE, MET_FLIERS_NPC),
        (1257.6, 2.8, "JAK2", "1562031_at", JAK2_TICKS, True,
         JAK2_BOX_NO_VALUE, JAK2_BOX_NPC, JAK2_FLIERS_NO_VALUE, JAK2_FLIERS_NPC),
    ]
    for dx, dy, gene, reporter, ticks, zero_line, box0, box1, fly0, fly1 in box_panels:
        stats = []
        for box, fly in ((box0, fly0), (box1, fly1)):
            stats.append({"q1": box[0], "med": box[1], "q3": box[2], "whislo": box[3],
                          "whishi": box[4], "fliers": fly})
        draw_box_panel(fig, canvas, dx, dy, gene, reporter, stats, ticks, zero_line)

    blue, red = "#0000FF", "#FF0000"
    survival_panels = [
        (119.4, "KITLG", SURVIVAL_NOTES_KITLG, 0, {
            "bands": [(KITLG_LOW_UP_T, KITLG_LOW_UP_S, blue), (KITLG_LOW_LO_T, KITLG_LOW_LO_S, blue),
                      (KITLG_HIGH_UP_T, KITLG_HIGH_UP_S, red), (KITLG_HIGH_LO_T, KITLG_HIGH_LO_S, red)],
            "lines": [(KITLG_LOW_T, KITLG_LOW_S, KITLG_LOW_CENSOR, blue),
                      (KITLG_HIGH_T, KITLG_HIGH_S, KITLG_HIGH_CENSOR, red)],
        }),
        (739.4, "MET", SURVIVAL_NOTES_MET, 14.5, {
            "bands": [(MET_LOW_UP_T, MET_LOW_UP_S, blue), (MET_LOW_LO_T, MET_LOW_LO_S, blue),
                      (MET_HIGH_UP_T, MET_HIGH_UP_S, red), (MET_HIGH_LO_T, MET_HIGH_LO_S, red)],
            "lines": [(MET_LOW_T, MET_LOW_S, MET_LOW_CENSOR, blue),
                      (MET_HIGH_T, MET_HIGH_S, MET_HIGH_CENSOR, red)],
        }),
        (1359.6, "JAK2", SURVIVAL_NOTES_JAK2, 8.5, {
            "bands": [(JAK2_LOW_UP_T, JAK2_LOW_UP_S, blue), (JAK2_LOW_LO_T, JAK2_LOW_LO_S, blue),
                      (JAK2_HIGH_UP_T, JAK2_HIGH_UP_S, red), (JAK2_HIGH_LO_T, JAK2_HIGH_LO_S, red)],
            "lines": [(JAK2_LOW_T, JAK2_LOW_S, JAK2_LOW_CENSOR, blue),
                      (JAK2_HIGH_T, JAK2_HIGH_S, JAK2_HIGH_CENSOR, red)],
        }),
    ]
    for left, gene, notes, legend_dx, curves in survival_panels:
        draw_survival(fig, canvas, left, curves, gene, notes, legend_dx)

    bold_edge = [path_effects.withStroke(linewidth=1.0, foreground="black")]
    for letter, x, y in [("A", 10, 63), ("B", 6, 596), ("C", 955, 594), ("D", 0, 1449), ("E", 7, 2068)]:
        canvas.text(x, y, letter, family=NOTO, fontsize=48, color="black", va="baseline",
                    path_effects=bold_edge)

    fig.savefig(OUTPUT_FILE, dpi=100)
    plt.close(fig)


if __name__ == "__main__":
    main()
